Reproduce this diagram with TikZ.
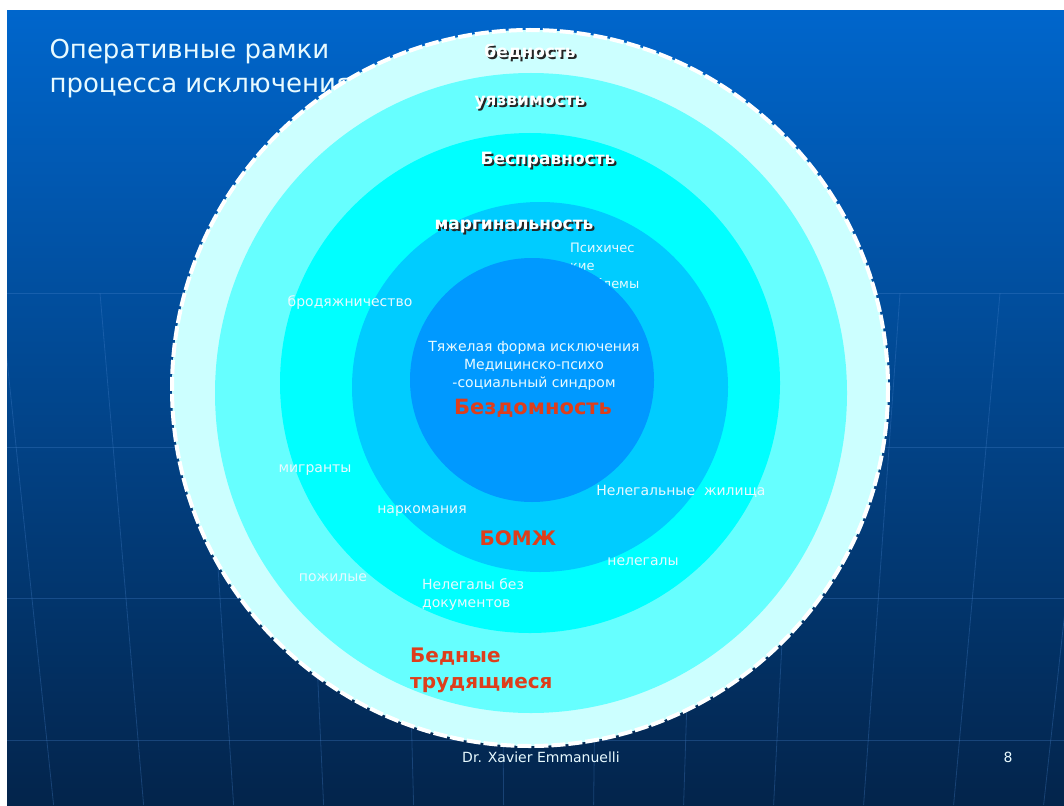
\documentclass[tikz,border=0pt]{standalone}
\usepackage{fontspec}
\setmainfont{DejaVu Sans}
\definecolor{slidetop}{HTML}{0066CC}
\definecolor{slidemid}{HTML}{0B4E9C}
\definecolor{slidebot}{HTML}{03244B}
\definecolor{gridline}{HTML}{4A86D0}
\definecolor{ringA}{HTML}{CCFFFF}
\definecolor{ringB}{HTML}{66FFFF}
\definecolor{ringC}{HTML}{00FFFF}
\definecolor{ringD}{HTML}{00CCFF}
\definecolor{ringE}{HTML}{0099FF}
\definecolor{alarm}{HTML}{DE3E1C}
\definecolor{paletext}{HTML}{E8FAFF}
\tikzset{
  ringlbl/.style={text=white,font=\fontsize{17}{20}\selectfont\bfseries},
  ringshadow/.style={text=black!85,font=\fontsize{17}{20}\selectfont\bfseries},
  grouplbl/.style={text=paletext,font=\fontsize{14}{18}\selectfont,inner sep=0pt},
  alarmlbl/.style={text=alarm,font=\fontsize{20}{26}\selectfont\bfseries,inner sep=0pt},
}
\begin{document}
\begin{tikzpicture}[x=1pt,y=-1pt]
  \useasboundingbox (0,0) rectangle (1064,805);
  \fill[white] (0,0) rectangle (1064,805);
  \shade[top color=slidetop,middle color=slidemid,bottom color=slidebot] (7,11) rectangle (1064,805);
  \begin{scope}[gridline,opacity=0.3,line width=0.8pt]
    \clip (7,11) rectangle (1064,805);
    \foreach \gy in {293,447,598,740}
      \draw (7,\gy) -- (1064,\gy);
    \foreach \gx in {-300,-200,...,1400} {
      \pgfmathsetmacro\bx{\gx+(536-\gx)*0.1}
      \draw (\gx,293) -- (\bx,805);
    }
  \end{scope}
  \node[font=\fontsize{26}{34}\selectfont,text=paletext,align=left,anchor=west] (title) at (46,69) {Оперативные рамки\\процесса исключения};
  \fill[ringA] (530,388) circle [radius=358];
  \draw[white,line width=4pt,dash pattern=on 14pt off 3pt] (530,388) circle [radius=358];
  \fill[ringB] (531,393) ellipse [x radius=316,y radius=320];
  \fill[ringC] (530,383) circle [radius=250];
  \fill[ringD] (540,387) ellipse [x radius=188,y radius=185];
  \node[grouplbl,align=left,anchor=north west,font=\fontsize{13}{18}\selectfont] (psych) at (570,243) {Психичес\\кие\\проблемы};
  \fill[ringE] (532,380) circle [radius=122];
  \foreach \nm/\px/\py/\txt in {poverty/530/52/бедность,vulner/530/103/уязвимость,
      lawless/548/160/Бесправность,margin/514/227/маргинальность} {
    \node[ringshadow] (\nm-s) at (\px+2,\py+2) {\txt};
    \node[ringlbl] (\nm) at (\px,\py) {\txt};
  }
  \node[grouplbl] (vagrancy) at (350,303) {бродяжничество};
  \node[grouplbl,align=center] (severe) at (534,366) {Тяжелая форма исключения\\Медицинско-психо\\-социальный синдром};
  \node[alarmlbl,font=\fontsize{21}{26}\selectfont\bfseries] (homeless) at (533,408) {Бездомность};
  \node[grouplbl] (migrants) at (315,470) {мигранты};
  \node[grouplbl] (squats) at (681,491) {Нелегальные \ жилища};
  \node[grouplbl] (drugs) at (422,511) {наркомания};
  \node[alarmlbl] (bomzh) at (518,538) {БОМЖ};
  \node[grouplbl] (illegals) at (643,562) {нелегалы};
  \node[grouplbl] (elderly) at (333,578) {пожилые};
  \node[grouplbl,align=left,anchor=north west] (nodocs) at (422,578) {Нелегалы без\\документов};
  \node[alarmlbl,align=left,anchor=west] (workers) at (410,670) {Бедные\\трудящиеся};
  \node[text=paletext,font=\fontsize{14}{16}\selectfont] (author) at (541,757) {Dr. Xavier Emmanuelli};
  \node[text=paletext,font=\fontsize{14}{16}\selectfont] (pagenum) at (1008,757) {8};
\end{tikzpicture}
\end{document}
